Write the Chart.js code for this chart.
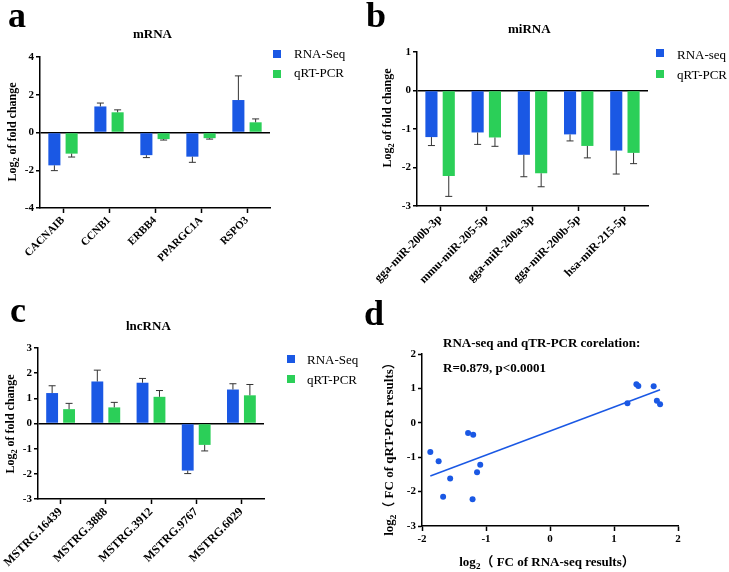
<!DOCTYPE html>
<html lang="en">
<head>
<meta charset="UTF-8">
<title>RNA-Seq vs qRT-PCR validation</title>
<style>
  body { margin: 0; background: #fff; }
  #fig { position: relative; width: 729px; height: 572px; overflow: hidden;
         font-family: "Liberation Serif", "Noto Sans CJK SC", serif; color: #000; }
  #fig canvas { position: absolute; }
  .letter { position: absolute; font-weight: bold; font-size: 36px; line-height: 1; }
  .ttl { position: absolute; font-weight: bold; font-size: 13px; line-height: 1; white-space: nowrap; }
  .ytitle { position: absolute; font-weight: bold; font-size: 12px; line-height: 1; white-space: nowrap;
            transform: translate(-50%, -50%) rotate(-90deg); }
  .xtitle { position: absolute; font-weight: bold; font-size: 13px; line-height: 1; white-space: nowrap;
            transform: translateX(-50%); }
  .leg { position: absolute; font-size: 13px; line-height: 1; white-space: nowrap; }
  .sw { position: absolute; width: 8px; height: 8px; }
  sub { font-size: 70%; vertical-align: -3px; line-height: 0; }
</style>
</head>
<body>
<div id="fig">
  <canvas id="chartA" width="365" height="290" style="left:0;top:0"></canvas>
  <canvas id="chartB" width="364" height="300" style="left:365px;top:0"></canvas>
  <canvas id="chartC" width="365" height="282" style="left:0;top:290px"></canvas>
  <canvas id="chartD" width="364" height="282" style="left:365px;top:290px"></canvas>

  <!-- panel letters -->
  <div class="letter" style="left:8px;top:-3px">a</div>
  <div class="letter" style="left:366px;top:-3px">b</div>
  <div class="letter" style="left:10px;top:292px">c</div>
  <div class="letter" style="left:364px;top:295px">d</div>

  <!-- titles -->
  <div class="ttl" style="left:133px;top:27px">mRNA</div>
  <div class="ttl" style="left:508px;top:22px">miRNA</div>
  <div class="ttl" style="left:126px;top:319px">lncRNA</div>
  <div class="ttl" style="left:443px;top:336px">RNA-seq and qTR-PCR corelation:</div>
  <div class="ttl" style="left:443px;top:361px">R=0.879, p&lt;0.0001</div>

  <!-- axis titles -->
  <div class="ytitle" style="left:12px;top:132px">Log<sub>2</sub> of fold change</div>
  <div class="ytitle" style="left:387px;top:118px">Log<sub>2</sub> of fold change</div>
  <div class="ytitle" style="left:10px;top:424px">Log<sub>2</sub> of fold change</div>
  <div class="ytitle" style="left:388px;top:446px;font-size:13px">log<sub>2</sub>（ FC of qRT-PCR results）</div>
  <div class="xtitle" style="left:547px;top:555px">log<sub>2</sub>（ FC of RNA-seq results）</div>

  <!-- legends -->
  <div class="sw" style="left:273px;top:50px;background:#1a58e4"></div>
  <div class="leg" style="left:294px;top:47px">RNA-Seq</div>
  <div class="sw" style="left:273px;top:70px;background:#2bcf58"></div>
  <div class="leg" style="left:294px;top:66px">qRT-PCR</div>

  <div class="sw" style="left:656px;top:49px;background:#1a58e4"></div>
  <div class="leg" style="left:677px;top:48px">RNA-seq</div>
  <div class="sw" style="left:656px;top:70px;background:#2bcf58"></div>
  <div class="leg" style="left:677px;top:68px">qRT-PCR</div>

  <div class="sw" style="left:287px;top:355px;background:#1a58e4"></div>
  <div class="leg" style="left:307px;top:353px">RNA-Seq</div>
  <div class="sw" style="left:287px;top:375px;background:#2bcf58"></div>
  <div class="leg" style="left:307px;top:373px">qRT-PCR</div>
</div>

<script src="https://cdn.jsdelivr.net/npm/chart.js"></script>
<script>
// ---- data ----
// a: mRNA
const mrnaGenes = ["CACNAIB", "CCNB1", "ERBB4", "PPARGC1A", "RSPO3"];
const mrnaSeq = [-1.74, 1.38, -1.20, -1.28, 1.72];
const mrnaSeqErr = [0.28, 0.18, 0.13, 0.30, 1.28];
const mrnaPcr = [-1.12, 1.07, -0.35, -0.30, 0.54];
const mrnaPcrErr = [0.18, 0.13, 0.05, 0.05, 0.18];

// b: miRNA
const mirnaNames = ["gga-miR-200b-3p", "mmu-miR-205-5p", "gga-miR-200a-3p", "gga-miR-200b-5p", "hsa-miR-215-5p"];
const mirnaSeq = [-1.21, -1.09, -1.67, -1.14, -1.56];
const mirnaSeqErr = [0.22, 0.31, 0.57, 0.17, 0.61];
const mirnaPcr = [-2.22, -1.22, -2.15, -1.44, -1.62];
const mirnaPcrErr = [0.53, 0.23, 0.35, 0.31, 0.28];

// c: lncRNA
const lncNames = ["MSTRG.16439", "MSTRG.3888", "MSTRG.3912", "MSTRG.9767", "MSTRG.6029"];
const lncSeq = [1.21, 1.67, 1.62, -1.87, 1.35];
const lncSeqErr = [0.29, 0.45, 0.17, 0.12, 0.23];
const lncPcr = [0.57, 0.64, 1.06, -0.85, 1.12];
const lncPcrErr = [0.23, 0.20, 0.25, 0.24, 0.43];

const BLUE = "#1a58e4";
const GREEN = "#2bcf58";

Chart.defaults.font.family = "'Liberation Serif', serif";
Chart.defaults.font.size = 11;
Chart.defaults.font.weight = "bold";
Chart.defaults.color = "#000";
Chart.defaults.animation = false;
Chart.defaults.plugins.legend.display = false;
Chart.defaults.plugins.tooltip.enabled = false;

// one-sided error bars (away from zero), drawn on top of the bars
const errorBars = {
    id: "errorBars",
    afterDatasetsDraw(chart) {
        const ctx = chart.ctx;
        const y = chart.scales.y;
        chart.data.datasets.forEach((ds, i) => {
            if (!ds.errors) return;
            chart.getDatasetMeta(i).data.forEach((bar, j) => {
                const v = ds.data[j];
                const end = v + Math.sign(v) * ds.errors[j];
                const y0 = y.getPixelForValue(v);
                const y1 = y.getPixelForValue(end);
                ctx.save();
                ctx.strokeStyle = "#333";
                ctx.lineWidth = 1;
                ctx.beginPath();
                ctx.moveTo(bar.x, y0);
                ctx.lineTo(bar.x, y1);
                ctx.moveTo(bar.x - 3.5, y1);
                ctx.lineTo(bar.x + 3.5, y1);
                ctx.stroke();
                ctx.restore();
            });
        });
    }
};

// force axis box sizes so the plot area lands where the figure has it
function fixY(w) {
    return s => { s.width = w; s.paddingTop = 0; s.paddingBottom = 0; };
}
function fixX(h) {
    return s => { s.height = h; s.paddingLeft = 0; s.paddingRight = 0; };
}

function barChart(id, labels, seq, seqErr, pcr, pcrErr, yMin, yMax, step, box) {
    return new Chart(document.getElementById(id), {
        type: "bar",
        data: {
            labels: labels,
            datasets: [
                { label: "RNA-Seq", data: seq, errors: seqErr, backgroundColor: BLUE },
                { label: "qRT-PCR", data: pcr, errors: pcrErr, backgroundColor: GREEN }
            ]
        },
        options: {
            responsive: false,
            categoryPercentage: 0.75,
            barPercentage: 0.7,
            layout: { padding: { left: 0, top: box.top, right: box.right, bottom: 0 } },
            scales: {
                x: {
                    afterFit: fixX(box.xh),
                    grid: { offset: false, drawOnChartArea: false, tickLength: 5, tickColor: "#000", tickWidth: 1.5 },
                    border: { color: "#000", width: 1.5 },
                    ticks: { autoSkip: false, minRotation: 45, maxRotation: 45, padding: 1,
                             font: { size: box.fs } }
                },
                y: {
                    min: yMin, max: yMax,
                    afterFit: fixY(box.yw),
                    grid: {
                        color: c => (c.tick && c.tick.value === 0) ? "#000" : "rgba(0,0,0,0)",
                        lineWidth: 1.5, tickLength: 4, tickColor: "#000", tickWidth: 1.5
                    },
                    border: { color: "#000", width: 1.5 },
                    ticks: { stepSize: step, padding: 2 }
                }
            }
        },
        plugins: [errorBars]
    });
}

barChart("chartA", mrnaGenes, mrnaSeq, mrnaSeqErr, mrnaPcr, mrnaPcrErr, -4, 4, 2,
    { top: 57, right: 95, yw: 40, xh: 82, fs: 11 });
barChart("chartB", mirnaNames, mirnaSeq, mirnaSeqErr, mirnaPcr, mirnaPcrErr, -3, 1, 1,
    { top: 52, right: 81, yw: 52, xh: 94, fs: 12 });
barChart("chartC", lncNames, lncSeq, lncSeqErr, lncPcr, lncPcrErr, -3, 3, 1,
    { top: 58, right: 101, yw: 38, xh: 73, fs: 12 });

// d: every gene's RNA-seq vs qRT-PCR value, plus least-squares line
const allSeq = mrnaSeq.concat(mirnaSeq, lncSeq);
const allPcr = mrnaPcr.concat(mirnaPcr, lncPcr);
const points = allSeq.map((x, i) => ({ x: x, y: allPcr[i] }));

const n = allSeq.length;
const mx = allSeq.reduce((a, b) => a + b, 0) / n;
const my = allPcr.reduce((a, b) => a + b, 0) / n;
let sxy = 0, sxx = 0;
for (let i = 0; i < n; i++) {
    sxy += (allSeq[i] - mx) * (allPcr[i] - my);
    sxx += (allSeq[i] - mx) * (allSeq[i] - mx);
}
const slope = sxy / sxx;
const icpt = my - slope * mx;
const xLo = Math.min(...allSeq), xHi = Math.max(...allSeq);
const fitLine = [{ x: xLo, y: icpt + slope * xLo }, { x: xHi, y: icpt + slope * xHi }];

new Chart(document.getElementById("chartD"), {
    type: "scatter",
    data: {
        datasets: [
            { data: points, backgroundColor: BLUE, borderColor: BLUE, pointRadius: 3, pointBorderWidth: 0 },
            { type: "line", data: fitLine, borderColor: BLUE, borderWidth: 1.5, pointRadius: 0, fill: false }
        ]
    },
    options: {
        responsive: false,
        layout: { padding: { left: 0, top: 64, right: 51, bottom: 0 } },
        scales: {
            x: {
                type: "linear", min: -2, max: 2,
                afterFit: fixX(46),
                grid: { drawOnChartArea: false, tickLength: 5, tickColor: "#000", tickWidth: 1.5 },
                border: { color: "#000", width: 1.5 },
                ticks: { stepSize: 1, padding: 2 }
            },
            y: {
                min: -3, max: 2,
                afterFit: fixY(57),
                grid: { drawOnChartArea: false, tickLength: 4, tickColor: "#000", tickWidth: 1.5 },
                border: { color: "#000", width: 1.5 },
                ticks: { stepSize: 1, padding: 2 }
            }
        }
    }
});
</script>
</body>
</html>
